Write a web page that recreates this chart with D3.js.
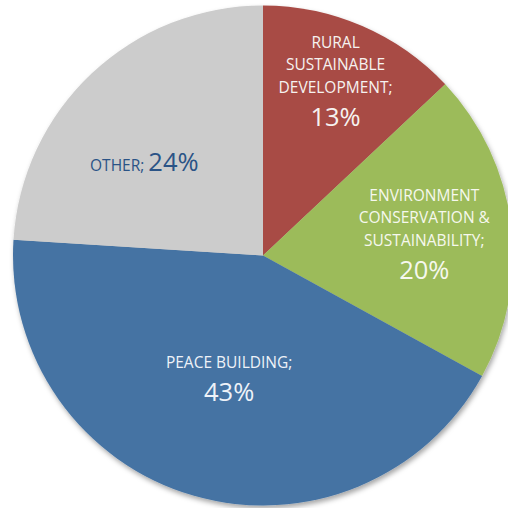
<!DOCTYPE html>
<html>
<head>
<meta charset="utf-8">
<script src="https://cdn.jsdelivr.net/npm/d3@7/dist/d3.min.js"></script>
<style>
  html, body { margin: 0; padding: 0; background: #ffffff; }
  svg { display: block; }
</style>
</head>
<body>
<svg id="chart" width="508" height="508"></svg>
<script>
// ---- data ----
const categories = ["RURAL SUSTAINABLE DEVELOPMENT", "ENVIRONMENT CONSERVATION & SUSTAINABILITY", "PEACE BUILDING", "OTHER"];
const labelLines = [
  ["RURAL", "SUSTAINABLE", "DEVELOPMENT;"],
  ["ENVIRONMENT", "CONSERVATION &", "SUSTAINABILITY;"],
  ["PEACE BUILDING;"],
  ["OTHER;"]
];
const values = [13, 20, 43, 24];
const colors = ["#a84b45", "#9cbb5a", "#4573a3", "#cccccc"];
const textColors = ["#f6f2f0", "#f6f8ee", "#eef2f8", "#2a5386"];

// ---- layout ----
const width = 508, height = 508;
const cx = 263, cy = 255.5, R = 250;
const smallFont = 15.5, bigFont = 25.5;
const lineGap = 22.5, pctGap = 33;
// label anchor: centroid at 0.6R plus offset (first-line baseline)
const labelOffsets = [[13, -70], [12.5, -36], [8, -32], [-16, 25]];
const inline = [false, false, false, true];

const svg = d3.select("#chart");
const defs = svg.append("defs");
const f = defs.append("filter").attr("id", "shadow")
  .attr("x", "-10%").attr("y", "-10%").attr("width", "120%").attr("height", "120%");
f.append("feDropShadow").attr("dx", 1.5).attr("dy", 3).attr("stdDeviation", 2.5)
  .attr("flood-color", "#000").attr("flood-opacity", 0.35);

const pie = d3.pie().sort(null).value(d => d)(values);
const arc = d3.arc().innerRadius(0).outerRadius(R);
const labelArc = d3.arc().innerRadius(R * 0.6).outerRadius(R * 0.6);

const g = svg.append("g").attr("transform", `translate(${cx},${cy})`);
g.append("g").attr("filter", "url(#shadow)")
  .selectAll("path").data(pie).join("path")
  .attr("d", arc)
  .attr("fill", (d, i) => colors[i]);

const font = "'Open Sans', 'Noto Sans', sans-serif";
pie.forEach((d, i) => {
  const c = labelArc.centroid(d);
  const x = c[0] + labelOffsets[i][0];
  const y = c[1] + labelOffsets[i][1];
  const t = g.append("text")
    .attr("text-anchor", "middle")
    .attr("font-family", font)
    .attr("fill", textColors[i]);
  const pct = values[i] + "%";
  if (inline[i]) {
    t.attr("x", x).attr("y", y);
    t.append("tspan").attr("font-size", smallFont).text(labelLines[i][0] + " ");
    t.append("tspan").attr("font-size", bigFont).text(pct);
  } else {
    labelLines[i].forEach((ln, k) => {
      t.append("tspan").attr("x", x).attr("y", y + k * lineGap)
        .attr("font-size", smallFont).text(ln);
    });
    t.append("tspan").attr("x", x).attr("y", y + (labelLines[i].length - 1) * lineGap + pctGap)
      .attr("font-size", bigFont).text(pct);
  }
});
</script>
</body>
</html>
